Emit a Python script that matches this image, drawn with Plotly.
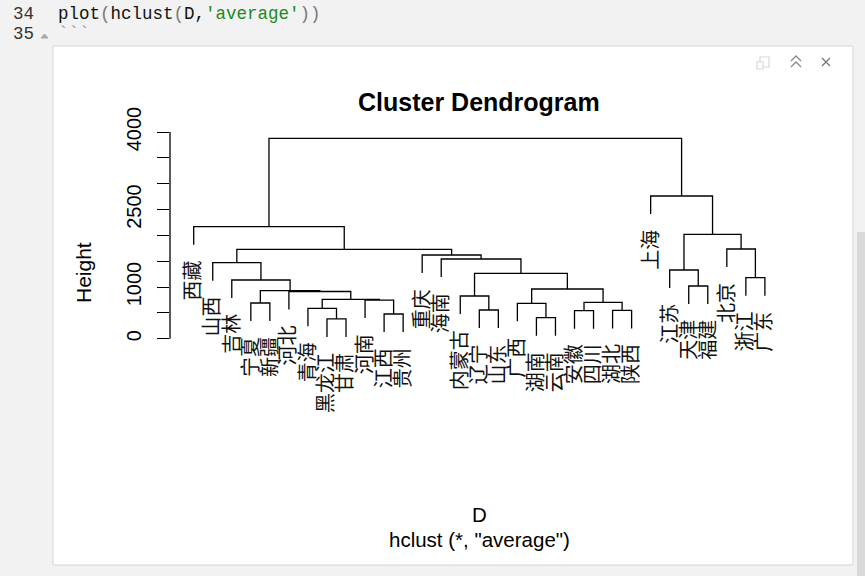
import plotly.graph_objects as go

# ---------------- data ----------------
leaf_labels = ["西藏", "山西", "吉林", "宁夏", "新疆", "河北", "青海", "黑龙江", "甘肃", "河南",
               "江西", "贵州", "重庆", "海南", "内蒙古", "辽宁", "山东", "广西", "湖南", "云南",
               "安徽", "四川", "湖北", "陕西", "上海", "江苏", "天津", "福建", "北京", "浙江", "广东"]

# merge steps: a leaf name or the index of an earlier merge
merge_a = ["黑龙江", "湖南", "江西", "安徽", "湖北", "辽宁", "青海", "宁夏", "广西", 3,
           "河南", 6, "内蒙古", "河北", 7, 8, "天津", "浙江", "吉林", 12,
           "江苏", "山西", "海南", "重庆", 21, "北京", 20, "西藏", "上海", 27]
merge_b = ["甘肃", "云南", "贵州", "四川", "陕西", "山东", 0, "新疆", 1, 4,
           2, 10, 5, 11, 13, 9, "福建", "广东", 14, 15,
           16, 18, 19, 22, 23, 17, 25, 24, 26, 28]
merge_h = [385, 408, 480, 545, 550, 557, 590, 692, 687, 706,
           750, 764, 828, 915, 930, 963, 1021, 1182, 1137, 1267,
           1331, 1472, 1544, 1621, 1731, 1737, 2021, 2168, 2762, 3878]

y_tickvals = [0, 500, 1000, 1500, 2000, 2500, 3000, 3500, 4000]
y_ticktext = ["0", "", "1000", "", "", "2500", "", "", "4000"]

# ---------------- geometry of the page ----------------
FW, FH = 865, 576
L, R, T, B = 170, 790, 120, 345
W, H = R - L, B - T


def PX(px):
    return (px - L) / W


def PY(py):
    return (B - py) / H


# ---------------- build dendrogram segments ----------------
pos = {n: i + 1 for i, n in enumerate(leaf_labels)}
hang = 0.1 * (max(merge_h) - min(merge_h))
node_x, node_h = [], []
leaf_bottom = {}
xs, ys = [], []


def child(c, h):
    if isinstance(c, str):
        leaf_bottom[c] = h - hang
        return pos[c], h - hang
    return node_x[c], node_h[c]


for a, b, h in zip(merge_a, merge_b, merge_h):
    xa, ya = child(a, h)
    xb, yb = child(b, h)
    xs += [xa, xa, xb, xb, None]
    ys += [ya, h, h, yb, None]
    node_x.append((xa + xb) / 2)
    node_h.append(h)

fig = go.Figure()
fig.add_trace(go.Scatter(x=xs, y=ys, mode="lines",
                         line=dict(color="black", width=1.3),
                         hoverinfo="skip", showlegend=False))

ann = []
for n in leaf_labels:
    ann.append(dict(x=pos[n], y=leaf_bottom[n], xref="x", yref="y", text=n,
                    textangle=-90, showarrow=False, xanchor="center", yanchor="top",
                    yshift=-14, xshift=-2,
                    font=dict(family="Noto Sans CJK SC", size=20, color="#111")))

RFONT = "Liberation Sans, Arial"
ann += [
    dict(x=PX(479), y=PY(102), xref="paper", yref="paper", text="<b>Cluster Dendrogram</b>",
         showarrow=False, xanchor="center", yanchor="middle",
         font=dict(family=RFONT, size=25, color="black")),
    dict(x=PX(479), y=PY(514), xref="paper", yref="paper", text="D",
         showarrow=False, xanchor="center", yanchor="middle",
         font=dict(family=RFONT, size=20.5, color="black")),
    dict(x=PX(479), y=PY(539), xref="paper", yref="paper", text='hclust (*, "average")',
         showarrow=False, xanchor="center", yanchor="middle",
         font=dict(family=RFONT, size=20.5, color="black")),
    dict(x=PX(83), y=PY(273), xref="paper", yref="paper", text="Height", textangle=-90,
         showarrow=False, xanchor="center", yanchor="middle",
         font=dict(family=RFONT, size=21, color="black")),
    # editor chrome
    dict(x=PX(36), y=PY(14), xref="paper", yref="paper", text="34", showarrow=False,
         xanchor="right", yanchor="middle",
         font=dict(family="Liberation Mono", size=17.5, color="#333")),
    dict(x=PX(36), y=PY(34), xref="paper", yref="paper", text="35", showarrow=False,
         xanchor="right", yanchor="middle",
         font=dict(family="Liberation Mono", size=17.5, color="#333")),
    dict(x=PX(56), y=PY(14), xref="paper", yref="paper",
         text=("plot<span style='color:#777'>(</span>hclust<span style='color:#777'>(</span>D,"
               "<span style='color:#1a8a1a'>'average'</span><span style='color:#777'>))</span>"),
         showarrow=False, xanchor="left", yanchor="middle",
         font=dict(family="Liberation Mono", size=17.5, color="#111")),
    dict(x=PX(56), y=PY(34), xref="paper", yref="paper", text="```", showarrow=False,
         xanchor="left", yanchor="middle",
         font=dict(family="Liberation Mono", size=17.5, color="#999")),
]

shapes = [
    # output panel
    dict(type="rect", xref="paper", yref="paper", x0=PX(53), x1=PX(853), y0=PY(565), y1=PY(46),
         fillcolor="white", line=dict(color="#d6d6d6", width=1), layer="below"),
    # scrollbar thumb
    dict(type="rect", xref="paper", yref="paper", x0=PX(857), x1=PX(866), y0=PY(577), y1=PY(232),
         fillcolor="#dadada", line=dict(width=0), layer="below"),
    # y axis line (0 .. 4000)
    dict(type="line", xref="paper", yref="y", x0=0, x1=0, y0=0, y1=4000,
         line=dict(color="black", width=1.3)),
    # fold marker
    dict(type="path", xref="paper", yref="paper",
         path=f"M {PX(41)} {PY(38)} L {PX(44.5)} {PY(34)} L {PX(48)} {PY(38)} Z",
         fillcolor="#aaa", line=dict(color="#aaa", width=1)),
    # icons
    dict(type="rect", xref="paper", yref="paper", x0=PX(760), x1=PX(769), y0=PY(67), y1=PY(57),
         line=dict(color="#d8d8d8", width=1.2), fillcolor="rgba(0,0,0,0)"),
    dict(type="rect", xref="paper", yref="paper", x0=PX(757), x1=PX(763), y0=PY(69), y1=PY(62),
         line=dict(color="#d8d8d8", width=1.2), fillcolor="white"),
    dict(type="path", xref="paper", yref="paper",
         path=f"M {PX(791)} {PY(61)} L {PX(796)} {PY(56)} L {PX(801)} {PY(61)}",
         line=dict(color="#8a8a8a", width=1.3)),
    dict(type="path", xref="paper", yref="paper",
         path=f"M {PX(791)} {PY(67)} L {PX(796)} {PY(62)} L {PX(801)} {PY(67)}",
         line=dict(color="#8a8a8a", width=1.3)),
    dict(type="path", xref="paper", yref="paper",
         path=f"M {PX(822)} {PY(58)} L {PX(830)} {PY(66)} M {PX(822)} {PY(66)} L {PX(830)} {PY(58)}",
         line=dict(color="#777", width=1.3)),
]

x0 = 1 + (L - 193.7) / 19.04
x1 = 1 + (R - 193.7) / 19.04
k = 0.0517
y_zero_px = 338.8
y0 = -(B - y_zero_px) / k
y1 = (y_zero_px - T) / k

fig.update_layout(
    width=FW, height=FH,
    margin=dict(l=L, r=FW - R, t=T, b=FH - B, pad=0),
    paper_bgcolor="#f2f2f2", plot_bgcolor="rgba(0,0,0,0)",
    showlegend=False,
    annotations=ann, shapes=shapes,
    xaxis=dict(range=[x0, x1], visible=False, fixedrange=True),
    yaxis=dict(range=[y0, y1], showgrid=False, zeroline=False, showline=False,
               tickmode="array", tickvals=y_tickvals, ticktext=y_ticktext,
               ticks="outside", ticklen=12, tickwidth=1.3, tickcolor="black",
               tickangle=-90, ticklabelstandoff=8,
               tickfont=dict(family=RFONT, size=20, color="black"), fixedrange=True),
)

fig.write_html("out.html")
